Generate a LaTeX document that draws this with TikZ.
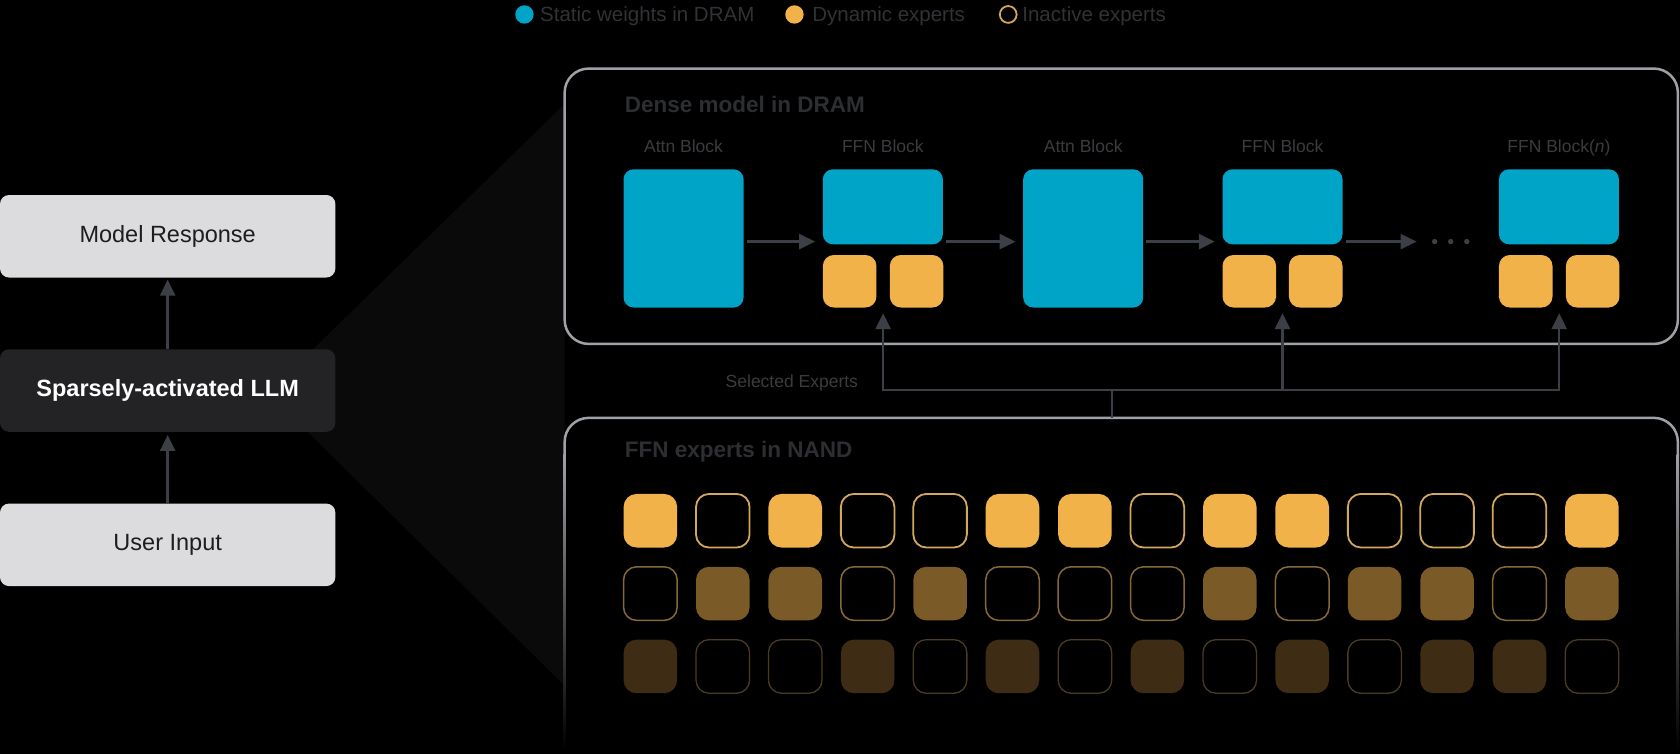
\documentclass[tikz,border=0pt]{standalone}
\usepackage{fontspec}
\setmainfont{Liberation Sans}
\usetikzlibrary{arrows.meta,calc}
\definecolor{blk}{HTML}{00A4C6}
\definecolor{org}{HTML}{F2B24A}
\definecolor{orgline}{HTML}{D4A85C}
\definecolor{midfill}{HTML}{7A5A26}
\definecolor{midline}{HTML}{86683A}
\definecolor{dimfill}{HTML}{3E2D14}
\definecolor{dimline}{HTML}{4A3B25}
\definecolor{panelcol}{HTML}{9EA2A7}
\definecolor{conncol}{HTML}{3C4046}
\definecolor{lblcol}{HTML}{3A3C40}
\definecolor{ttlcol}{HTML}{2C2E32}
\definecolor{legcol}{HTML}{303236}
\definecolor{lightbox}{HTML}{DCDCDE}
\definecolor{darkbox}{HTML}{232325}
\definecolor{boxtext}{HTML}{1D1D1F}
\definecolor{conecol}{HTML}{0A0A0A}
\newcommand{\pxu}{1.07143pt}
\begin{document}
\begin{tikzpicture}[x=1.07143pt, y=-1.07143pt,
  lbox/.style={rectangle, rounded corners=9pt, fill=lightbox, text=boxtext, inner sep=0pt,
    minimum width=313*\pxu, minimum height=77*\pxu, font=\fontsize{23.5}{28}\selectfont},
  dbox/.style={lbox, fill=darkbox, text=white, font=\fontsize{23.5}{28}\selectfont\bfseries},
  bluebox/.style={rectangle, rounded corners=10pt, fill=blk, inner sep=0pt},
  attnbox/.style={bluebox, minimum width=112*\pxu, minimum height=129*\pxu},
  ffnbox/.style={bluebox, minimum width=112*\pxu, minimum height=70*\pxu},
  dynexp/.style={rectangle, rounded corners=11pt, fill=org, inner sep=0pt,
    minimum width=50*\pxu, minimum height=49*\pxu},
  xbox/.style={rectangle, rounded corners=13pt, inner sep=0pt, minimum size=50*\pxu},
  ea/.code={\ifnum#1=1\relax\pgfkeysalso{fill=org}\else\pgfkeysalso{draw=orgline, line width=1.8pt}\fi},
  eb/.code={\ifnum#1=1\relax\pgfkeysalso{fill=midfill}\else\pgfkeysalso{draw=midline, line width=1.5pt}\fi},
  ec/.code={\ifnum#1=1\relax\pgfkeysalso{fill=dimfill}\else\pgfkeysalso{draw=dimline, line width=1.3pt}\fi},
  blbl/.style={text=lblcol, font=\fontsize{17.5}{21}\selectfont, inner sep=0pt, anchor=base},
  ttl/.style={text=ttlcol, font=\fontsize{22.5}{27}\selectfont\bfseries, inner sep=0pt, anchor=base west},
  legtxt/.style={text=legcol, font=\fontsize{20.5}{24}\selectfont, inner sep=0pt, anchor=base west},
  legdot/.style={circle, inner sep=0pt, minimum size=18.4pt},
  arr/.style={draw=conncol, line width=2.5pt, -{Triangle[length=16pt,width=15pt]}},
  connline/.style={draw=conncol, line width=2.3pt},
  panelline/.style={draw=panelcol, line width=2.5pt},
  dotn/.style={circle, fill=conncol, inner sep=0pt, minimum size=5.4pt}
]
\useasboundingbox (0,0) rectangle (1568,703.73);
\fill[black] (0,0) rectangle (1568,703.73);
% projection cone
\fill[conecol] (292,326) -- (527,97) -- (527,640) -- (287,403) -- cycle;

% left column
\node[lbox] (resp) at (156.5,220.5) {Model Response};
\node[dbox] (llm) at (156.5,364.5) {Sparsely-activated LLM};
\node[lbox] (inp) at (156.5,508.5) {User Input};
\draw[arr, shorten >=2pt] (llm.north) -- (resp.south);
\draw[arr, shorten >=3pt] (inp.north) -- (llm.south);

% legend
\node[legdot, fill=blk] (lg1) at (489.5,13.5) {};
\node[legtxt] (lt1) at (504,20) {Static weights in DRAM};
\node[legdot, fill=org] (lg2) at (741.5,13.5) {};
\node[legtxt] (lt2) at (758,20) {Dynamic experts};
\node[circle, inner sep=0pt, minimum size=16.8pt, draw=orgline, line width=1.8pt] (lg3) at (941,13.5) {};
\node[legtxt] (lt3) at (954,20) {Inactive experts};

% dense model panel
\node[rectangle, rounded corners=24pt, panelline, minimum width=1039*\pxu, minimum height=257*\pxu, inner sep=0pt] (dense) at (1046.5,192.5) {};
\node[ttl] (densettl) at (583,105) {Dense model in DRAM};

\node[blbl] (l1) at (638,142.5) {Attn Block};
\node[blbl] (l2) at (824,142.5) {FFN Block};
\node[blbl] (l3) at (1011,142.5) {Attn Block};
\node[blbl] (l4) at (1197,142.5) {FFN Block};
\node[blbl] (l5) at (1455,142.5) {FFN Block(\textit{n})};

\node[attnbox] (attn1) at (638,222.5) {};
\node[ffnbox] (ffn1) at (824,193) {};
\node[dynexp] (e1a) at (793,262.5) {};
\node[dynexp] (e1b) at (855.5,262.5) {};
\node[attnbox] (attn2) at (1011,222.5) {};
\node[ffnbox] (ffn2) at (1197,193) {};
\node[dynexp] (e2a) at (1166,262.5) {};
\node[dynexp] (e2b) at (1228,262.5) {};
\node[ffnbox] (ffnn) at (1455,193) {};
\node[dynexp] (ena) at (1424,262.5) {};
\node[dynexp] (enb) at (1486.5,262.5) {};

\node[dotn] (dot1) at (1339,225.5) {};
\node[dotn] (dot2) at (1354,225.5) {};
\node[dotn] (dot3) at (1369,225.5) {};

\coordinate (h1) at (694,225.5);
\draw[arr, shorten <=3pt, shorten >=7.5pt] (attn1.east |- h1) -- (ffn1.west |- h1);
\draw[arr, shorten <=3pt, shorten >=7.5pt] (ffn1.east |- h1) -- (attn2.west |- h1);
\draw[arr, shorten <=3pt, shorten >=7.5pt] (attn2.east |- h1) -- (ffn2.west |- h1);
\draw[arr, shorten <=3pt, shorten >=18pt] (ffn2.east |- h1) -- (dot1.center);

% NAND panel (open at the bottom, fading)
\draw[panelline, rounded corners=24pt] (527,425) -- (527,390) -- (1566,390) -- (1566,425);
\shade[top color=panelcol, bottom color=black] (525.83,424) rectangle (528.17,700);
\shade[top color=panelcol, bottom color=black] (1564.83,424) rectangle (1567.17,700);
\node[ttl] (nandttl) at (583,427) {FFN experts in NAND};

% selected experts connector
\coordinate (nandtop) at (1038,390);
\coordinate (jn) at (1038,364);
\coordinate (g1) at ($(e1a.south)!0.5!(e1b.south)$);
\coordinate (g2) at ($(e2a.south)!0.5!(e2b.south)$);
\coordinate (gn) at ($(ena.south)!0.5!(enb.south)$);
\draw[connline] (nandtop) -- (jn);
\draw[arr, shorten >=5.5pt] (jn) -| (g1);
\draw[arr, shorten >=5.5pt] (jn) -| (g2);
\draw[arr, shorten >=5.5pt] (jn) -| (gn);
\node[text=lblcol, font=\fontsize{17.5}{21}\selectfont, inner sep=0pt, anchor=base east] (selx) at (801,361.5) {Selected Experts};

% expert grid
\foreach \s [count=\i] in {1,0,1,0,0,1,1,0,1,1,0,0,0,1}
  \node[xbox, ea=\s] (ra\i) at ({607+(\i-1)*67.6},486) {};
\foreach \s [count=\i] in {0,1,1,0,1,0,0,0,1,0,1,1,0,1}
  \node[xbox, eb=\s] (rb\i) at ({607+(\i-1)*67.6},554) {};
\foreach \s [count=\i] in {1,0,0,1,0,1,0,1,0,1,0,1,1,0}
  \node[xbox, ec=\s] (rc\i) at ({607+(\i-1)*67.6},622) {};
\end{tikzpicture}
\end{document}
